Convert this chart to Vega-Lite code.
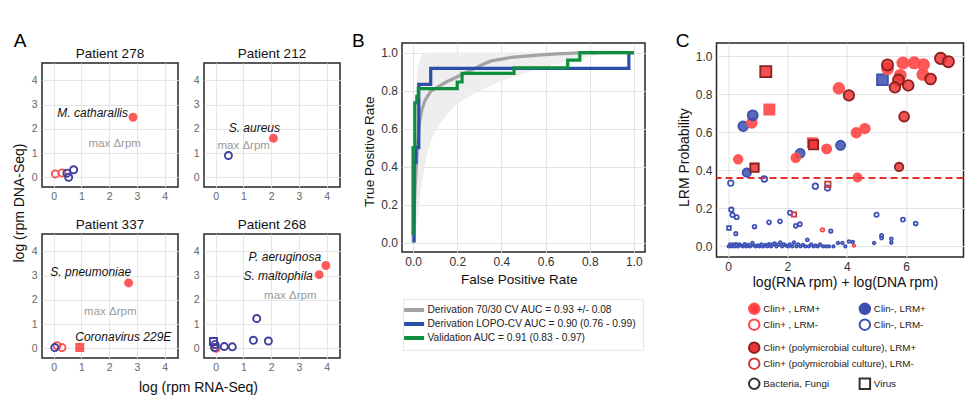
{
  "$schema": "https://vega.github.io/schema/vega-lite/v6.json",
  "background": "white",
  "padding": {"left": 11, "top": 30, "right": 5, "bottom": 2},
  "config": {
    "font": "Liberation Sans",
    "view": {"stroke": "#262626", "strokeWidth": 1.5},
    "axis": {"domain": false, "ticks": false, "grid": true, "gridColor": "#e3e3e3", "gridWidth": 1.1, "labelFont": "Liberation Sans", "titleFont": "Liberation Sans", "titleFontWeight": "normal", "labelColor": "#333", "titleColor": "#111", "labelFontSize": 12, "titleFontSize": 14, "labelPadding": 4.5},
    "title": {"font": "Liberation Sans", "fontWeight": "normal", "color": "#111"},
    "legend": {"labelFont": "Liberation Sans", "labelColor": "#222", "labelLimit": 320}
  },
  "datasets": {
    "Apts": [
      {"pt": "278", "x": 0.06, "y": 0.14, "c": "rn", "k": "b"},
      {"pt": "278", "x": 0.3, "y": 0.18, "c": "rn", "k": "b"},
      {"pt": "278", "x": 0.54, "y": 0.0, "c": "bn", "k": "b"},
      {"pt": "278", "x": 0.72, "y": 0.31, "c": "bn", "k": "b"},
      {"pt": "278", "x": 0.48, "y": 0.17, "c": "bn", "k": "b"},
      {"pt": "278", "x": 2.86, "y": 2.48, "c": "rp", "k": "b"},
      {"pt": "212", "x": 0.46, "y": 0.9, "c": "bn", "k": "b"},
      {"pt": "212", "x": 2.08, "y": 1.61, "c": "rp", "k": "b"},
      {"pt": "337", "x": 0.12, "y": 0.11, "c": "rn", "k": "b"},
      {"pt": "337", "x": 0.3, "y": 0.03, "c": "rn", "k": "b"},
      {"pt": "337", "x": 0.04, "y": 0.03, "c": "bn", "k": "b"},
      {"pt": "337", "x": 0.94, "y": 0.03, "c": "rp", "k": "v"},
      {"pt": "337", "x": 2.7, "y": 2.7, "c": "rp", "k": "b"},
      {"pt": "268", "x": 0.02, "y": 0.0, "c": "rn", "k": "b"},
      {"pt": "268", "x": -0.08, "y": 0.28, "c": "bn", "k": "v"},
      {"pt": "268", "x": -0.02, "y": 0.16, "c": "bn", "k": "b"},
      {"pt": "268", "x": -0.04, "y": 0.03, "c": "bn", "k": "b"},
      {"pt": "268", "x": 0.31, "y": 0.07, "c": "bn", "k": "b"},
      {"pt": "268", "x": 0.6, "y": 0.06, "c": "bn", "k": "b"},
      {"pt": "268", "x": 1.36, "y": 0.33, "c": "bn", "k": "b"},
      {"pt": "268", "x": 1.9, "y": 0.3, "c": "bn", "k": "b"},
      {"pt": "268", "x": 1.48, "y": 1.23, "c": "bn", "k": "b"},
      {"pt": "268", "x": 3.73, "y": 3.04, "c": "rp", "k": "b"},
      {"pt": "268", "x": 3.97, "y": 3.42, "c": "rp", "k": "b"}
    ],
    "Asp": [
      {"pt": "278", "x": 2.68, "y": 2.67, "t": "M. catharallis"},
      {"pt": "212", "x": 2.32, "y": 2.03, "t": "S. aureus"},
      {"pt": "337", "x": 2.79, "y": 3.15, "t": "S. pneumoniae"},
      {"pt": "337", "x": 4.24, "y": 0.45, "t": "Coronavirus 229E"},
      {"pt": "268", "x": 3.8, "y": 3.75, "t": "P. aeruginosa"},
      {"pt": "268", "x": 3.5, "y": 2.97, "t": "S. maltophila"}
    ],
    "Amx": [
      {"pt": "278", "x": 2.2, "y": 1.38, "t": "max Δrpm"},
      {"pt": "212", "x": 1.01, "y": 1.31, "t": "max Δrpm"},
      {"pt": "337", "x": 2.04, "y": 1.51, "t": "max Δrpm"},
      {"pt": "268", "x": 2.69, "y": 2.16, "t": "max Δrpm"}
    ],
    "Bband": [
      {"x": 0, "lo": 0, "hi": 0.25},
      {"x": 0.005, "lo": 0.02, "hi": 0.55},
      {"x": 0.01, "lo": 0.05, "hi": 0.75},
      {"x": 0.02, "lo": 0.12, "hi": 0.9},
      {"x": 0.03, "lo": 0.22, "hi": 0.96},
      {"x": 0.04, "lo": 0.32, "hi": 0.99},
      {"x": 0.06, "lo": 0.45, "hi": 1.0},
      {"x": 0.08, "lo": 0.53, "hi": 1.0},
      {"x": 0.1, "lo": 0.59, "hi": 1.0},
      {"x": 0.15, "lo": 0.67, "hi": 1.0},
      {"x": 0.2, "lo": 0.73, "hi": 1.0},
      {"x": 0.3, "lo": 0.8, "hi": 1.0},
      {"x": 0.4, "lo": 0.85, "hi": 1.0},
      {"x": 0.5, "lo": 0.89, "hi": 1.0},
      {"x": 0.6, "lo": 0.925, "hi": 1.0},
      {"x": 0.7, "lo": 0.955, "hi": 1.0},
      {"x": 0.8, "lo": 0.98, "hi": 1.0},
      {"x": 0.9, "lo": 0.995, "hi": 1.0},
      {"x": 1.0, "lo": 1.0, "hi": 1.0}
    ],
    "Broc": [
      {"s": "Derivation 70/30 CV AUC = 0.93 +/- 0.08", "x": 0, "y": 0},
      {"s": "Derivation 70/30 CV AUC = 0.93 +/- 0.08", "x": 0.005, "y": 0.15},
      {"s": "Derivation 70/30 CV AUC = 0.93 +/- 0.08", "x": 0.01, "y": 0.3},
      {"s": "Derivation 70/30 CV AUC = 0.93 +/- 0.08", "x": 0.02, "y": 0.5},
      {"s": "Derivation 70/30 CV AUC = 0.93 +/- 0.08", "x": 0.03, "y": 0.64},
      {"s": "Derivation 70/30 CV AUC = 0.93 +/- 0.08", "x": 0.04, "y": 0.7},
      {"s": "Derivation 70/30 CV AUC = 0.93 +/- 0.08", "x": 0.055, "y": 0.75},
      {"s": "Derivation 70/30 CV AUC = 0.93 +/- 0.08", "x": 0.08, "y": 0.795},
      {"s": "Derivation 70/30 CV AUC = 0.93 +/- 0.08", "x": 0.113, "y": 0.82},
      {"s": "Derivation 70/30 CV AUC = 0.93 +/- 0.08", "x": 0.15, "y": 0.845},
      {"s": "Derivation 70/30 CV AUC = 0.93 +/- 0.08", "x": 0.196, "y": 0.87},
      {"s": "Derivation 70/30 CV AUC = 0.93 +/- 0.08", "x": 0.24, "y": 0.895},
      {"s": "Derivation 70/30 CV AUC = 0.93 +/- 0.08", "x": 0.28, "y": 0.916},
      {"s": "Derivation 70/30 CV AUC = 0.93 +/- 0.08", "x": 0.32, "y": 0.94},
      {"s": "Derivation 70/30 CV AUC = 0.93 +/- 0.08", "x": 0.355, "y": 0.956},
      {"s": "Derivation 70/30 CV AUC = 0.93 +/- 0.08", "x": 0.445, "y": 0.975},
      {"s": "Derivation 70/30 CV AUC = 0.93 +/- 0.08", "x": 0.566, "y": 0.986},
      {"s": "Derivation 70/30 CV AUC = 0.93 +/- 0.08", "x": 0.65, "y": 0.993},
      {"s": "Derivation 70/30 CV AUC = 0.93 +/- 0.08", "x": 0.75, "y": 0.998},
      {"s": "Derivation 70/30 CV AUC = 0.93 +/- 0.08", "x": 0.85, "y": 1.0},
      {"s": "Derivation 70/30 CV AUC = 0.93 +/- 0.08", "x": 1.0, "y": 1.0},
      {"s": "Derivation LOPO-CV AUC = 0.90 (0.76 - 0.99)", "x": 0.005, "y": 0},
      {"s": "Derivation LOPO-CV AUC = 0.90 (0.76 - 0.99)", "x": 0.005, "y": 0.42},
      {"s": "Derivation LOPO-CV AUC = 0.90 (0.76 - 0.99)", "x": 0.013, "y": 0.42},
      {"s": "Derivation LOPO-CV AUC = 0.90 (0.76 - 0.99)", "x": 0.013, "y": 0.5},
      {"s": "Derivation LOPO-CV AUC = 0.90 (0.76 - 0.99)", "x": 0.026, "y": 0.5},
      {"s": "Derivation LOPO-CV AUC = 0.90 (0.76 - 0.99)", "x": 0.026, "y": 0.833},
      {"s": "Derivation LOPO-CV AUC = 0.90 (0.76 - 0.99)", "x": 0.08, "y": 0.833},
      {"s": "Derivation LOPO-CV AUC = 0.90 (0.76 - 0.99)", "x": 0.08, "y": 0.917},
      {"s": "Derivation LOPO-CV AUC = 0.90 (0.76 - 0.99)", "x": 0.977, "y": 0.917},
      {"s": "Derivation LOPO-CV AUC = 0.90 (0.76 - 0.99)", "x": 0.977, "y": 1.0},
      {"s": "Derivation LOPO-CV AUC = 0.90 (0.76 - 0.99)", "x": 1.0, "y": 1.0},
      {"s": "Validation AUC = 0.91 (0.83 - 0.97)", "x": 0, "y": 0.04},
      {"s": "Validation AUC = 0.91 (0.83 - 0.97)", "x": 0, "y": 0.5},
      {"s": "Validation AUC = 0.91 (0.83 - 0.97)", "x": 0.008, "y": 0.5},
      {"s": "Validation AUC = 0.91 (0.83 - 0.97)", "x": 0.008, "y": 0.735},
      {"s": "Validation AUC = 0.91 (0.83 - 0.97)", "x": 0.017, "y": 0.735},
      {"s": "Validation AUC = 0.91 (0.83 - 0.97)", "x": 0.017, "y": 0.77},
      {"s": "Validation AUC = 0.91 (0.83 - 0.97)", "x": 0.024, "y": 0.77},
      {"s": "Validation AUC = 0.91 (0.83 - 0.97)", "x": 0.024, "y": 0.81},
      {"s": "Validation AUC = 0.91 (0.83 - 0.97)", "x": 0.2, "y": 0.81},
      {"s": "Validation AUC = 0.91 (0.83 - 0.97)", "x": 0.2, "y": 0.845},
      {"s": "Validation AUC = 0.91 (0.83 - 0.97)", "x": 0.222, "y": 0.845},
      {"s": "Validation AUC = 0.91 (0.83 - 0.97)", "x": 0.222, "y": 0.89},
      {"s": "Validation AUC = 0.91 (0.83 - 0.97)", "x": 0.457, "y": 0.89},
      {"s": "Validation AUC = 0.91 (0.83 - 0.97)", "x": 0.457, "y": 0.92},
      {"s": "Validation AUC = 0.91 (0.83 - 0.97)", "x": 0.7, "y": 0.92},
      {"s": "Validation AUC = 0.91 (0.83 - 0.97)", "x": 0.7, "y": 0.96},
      {"s": "Validation AUC = 0.91 (0.83 - 0.97)", "x": 0.755, "y": 0.96},
      {"s": "Validation AUC = 0.91 (0.83 - 0.97)", "x": 0.755, "y": 1.0},
      {"s": "Validation AUC = 0.91 (0.83 - 0.97)", "x": 1.0, "y": 1.0}
    ],
    "Cm": [
      {"x": 0.02, "p": 0.0, "g": "Clin-, LRM-", "k": "Bacteria, Fungi"},
      {"x": 0.07, "p": 0.01, "g": "Clin-, LRM-", "k": "Bacteria, Fungi"},
      {"x": 0.12, "p": 0.0, "g": "Clin-, LRM-", "k": "Bacteria, Fungi"},
      {"x": 0.17, "p": 0.01, "g": "Clin-, LRM-", "k": "Bacteria, Fungi"},
      {"x": 0.22, "p": 0.0, "g": "Clin-, LRM-", "k": "Bacteria, Fungi"},
      {"x": 0.27, "p": 0.012, "g": "Clin-, LRM-", "k": "Bacteria, Fungi"},
      {"x": 0.33, "p": 0.0, "g": "Clin-, LRM-", "k": "Bacteria, Fungi"},
      {"x": 0.38, "p": 0.01, "g": "Clin-, LRM-", "k": "Bacteria, Fungi"},
      {"x": 0.44, "p": 0.005, "g": "Clin-, LRM-", "k": "Bacteria, Fungi"},
      {"x": 0.5, "p": 0.0, "g": "Clin-, LRM-", "k": "Bacteria, Fungi"},
      {"x": 0.56, "p": 0.012, "g": "Clin-, LRM-", "k": "Bacteria, Fungi"},
      {"x": 0.62, "p": 0.0, "g": "Clin-, LRM-", "k": "Bacteria, Fungi"},
      {"x": 0.68, "p": 0.008, "g": "Clin-, LRM-", "k": "Bacteria, Fungi"},
      {"x": 0.74, "p": 0.0, "g": "Clin-, LRM-", "k": "Bacteria, Fungi"},
      {"x": 0.82, "p": 0.018, "g": "Clin-, LRM-", "k": "Bacteria, Fungi"},
      {"x": 0.87, "p": 0.005, "g": "Clin-, LRM-", "k": "Bacteria, Fungi"},
      {"x": 0.93, "p": 0.0, "g": "Clin-, LRM-", "k": "Bacteria, Fungi"},
      {"x": 1.0, "p": 0.005, "g": "Clin-, LRM-", "k": "Bacteria, Fungi"},
      {"x": 1.06, "p": 0.0, "g": "Clin-, LRM-", "k": "Bacteria, Fungi"},
      {"x": 1.12, "p": 0.01, "g": "Clin-, LRM-", "k": "Bacteria, Fungi"},
      {"x": 1.18, "p": 0.0, "g": "Clin-, LRM-", "k": "Bacteria, Fungi"},
      {"x": 1.25, "p": 0.008, "g": "Clin-, LRM-", "k": "Bacteria, Fungi"},
      {"x": 1.32, "p": 0.0, "g": "Clin-, LRM-", "k": "Bacteria, Fungi"},
      {"x": 1.38, "p": 0.012, "g": "Clin-, LRM-", "k": "Bacteria, Fungi"},
      {"x": 1.45, "p": 0.0, "g": "Clin-, LRM-", "k": "Bacteria, Fungi"},
      {"x": 1.5, "p": 0.01, "g": "Clin-, LRM-", "k": "Bacteria, Fungi"},
      {"x": 1.57, "p": 0.015, "g": "Clin-, LRM-", "k": "Bacteria, Fungi"},
      {"x": 1.63, "p": 0.0, "g": "Clin-, LRM-", "k": "Bacteria, Fungi"},
      {"x": 1.7, "p": 0.01, "g": "Clin-, LRM-", "k": "Bacteria, Fungi"},
      {"x": 1.76, "p": 0.02, "g": "Clin-, LRM-", "k": "Bacteria, Fungi"},
      {"x": 1.82, "p": 0.0, "g": "Clin-, LRM-", "k": "Bacteria, Fungi"},
      {"x": 1.88, "p": 0.01, "g": "Clin-, LRM-", "k": "Bacteria, Fungi"},
      {"x": 1.95, "p": 0.005, "g": "Clin-, LRM-", "k": "Bacteria, Fungi"},
      {"x": 2.02, "p": 0.0, "g": "Clin-, LRM-", "k": "Bacteria, Fungi"},
      {"x": 2.08, "p": 0.01, "g": "Clin-, LRM-", "k": "Bacteria, Fungi"},
      {"x": 2.16, "p": 0.0, "g": "Clin-, LRM-", "k": "Bacteria, Fungi"},
      {"x": 2.22, "p": 0.02, "g": "Clin-, LRM-", "k": "Bacteria, Fungi"},
      {"x": 2.3, "p": 0.0, "g": "Clin-, LRM-", "k": "Bacteria, Fungi"},
      {"x": 2.36, "p": 0.01, "g": "Clin-, LRM-", "k": "Bacteria, Fungi"},
      {"x": 2.44, "p": 0.0, "g": "Clin-, LRM-", "k": "Bacteria, Fungi"},
      {"x": 2.52, "p": 0.008, "g": "Clin-, LRM-", "k": "Bacteria, Fungi"},
      {"x": 2.6, "p": 0.0, "g": "Clin-, LRM-", "k": "Bacteria, Fungi"},
      {"x": 2.67, "p": 0.034, "g": "Clin-, LRM-", "k": "Bacteria, Fungi"},
      {"x": 2.72, "p": 0.0, "g": "Clin-, LRM-", "k": "Bacteria, Fungi"},
      {"x": 2.8, "p": 0.01, "g": "Clin-, LRM-", "k": "Bacteria, Fungi"},
      {"x": 2.88, "p": 0.0, "g": "Clin-, LRM-", "k": "Bacteria, Fungi"},
      {"x": 2.95, "p": 0.005, "g": "Clin-, LRM-", "k": "Bacteria, Fungi"},
      {"x": 3.02, "p": 0.0, "g": "Clin-, LRM-", "k": "Bacteria, Fungi"},
      {"x": 3.1, "p": 0.01, "g": "Clin-, LRM-", "k": "Bacteria, Fungi"},
      {"x": 3.2, "p": 0.0, "g": "Clin-, LRM-", "k": "Bacteria, Fungi"},
      {"x": 3.3, "p": 0.0, "g": "Clin-, LRM-", "k": "Bacteria, Fungi"},
      {"x": 3.4, "p": 0.0, "g": "Clin-, LRM-", "k": "Bacteria, Fungi"},
      {"x": 3.55, "p": 0.0, "g": "Clin-, LRM-", "k": "Bacteria, Fungi"},
      {"x": 3.7, "p": 0.018, "g": "Clin-, LRM-", "k": "Bacteria, Fungi"},
      {"x": 3.85, "p": 0.018, "g": "Clin-, LRM-", "k": "Bacteria, Fungi"},
      {"x": 3.95, "p": 0.0, "g": "Clin-, LRM-", "k": "Bacteria, Fungi"},
      {"x": 4.07, "p": 0.026, "g": "Clin-, LRM-", "k": "Bacteria, Fungi"},
      {"x": 4.2, "p": 0.023, "g": "Clin-, LRM-", "k": "Bacteria, Fungi"},
      {"x": 4.92, "p": 0.018, "g": "Clin-, LRM-", "k": "Bacteria, Fungi"},
      {"x": 5.17, "p": 0.058, "g": "Clin-, LRM-", "k": "Bacteria, Fungi"},
      {"x": 5.17, "p": 0.044, "g": "Clin-, LRM-", "k": "Bacteria, Fungi"},
      {"x": 5.5, "p": 0.04, "g": "Clin-, LRM-", "k": "Bacteria, Fungi"},
      {"x": 5.5, "p": 0.02, "g": "Clin-, LRM-", "k": "Bacteria, Fungi"},
      {"x": 3.46, "p": 0.081, "g": "Clin-, LRM-", "k": "Bacteria, Fungi"},
      {"x": 0.09, "p": 0.333, "g": "Clin-, LRM-", "k": "Bacteria, Fungi"},
      {"x": 1.22, "p": 0.355, "g": "Clin-, LRM-", "k": "Bacteria, Fungi"},
      {"x": 2.94, "p": 0.317, "g": "Clin-, LRM-", "k": "Bacteria, Fungi"},
      {"x": 3.35, "p": 0.307, "g": "Clin-, LRM-", "k": "Bacteria, Fungi"},
      {"x": 0.11, "p": 0.193, "g": "Clin-, LRM-", "k": "Bacteria, Fungi"},
      {"x": 0.15, "p": 0.165, "g": "Clin-, LRM-", "k": "Bacteria, Fungi"},
      {"x": 0.29, "p": 0.154, "g": "Clin-, LRM-", "k": "Bacteria, Fungi"},
      {"x": 0.26, "p": 0.067, "g": "Clin-, LRM-", "k": "Bacteria, Fungi"},
      {"x": 0.89, "p": 0.104, "g": "Clin-, LRM-", "k": "Bacteria, Fungi"},
      {"x": 1.38, "p": 0.127, "g": "Clin-, LRM-", "k": "Bacteria, Fungi"},
      {"x": 1.75, "p": 0.132, "g": "Clin-, LRM-", "k": "Bacteria, Fungi"},
      {"x": 2.09, "p": 0.177, "g": "Clin-, LRM-", "k": "Bacteria, Fungi"},
      {"x": 2.28, "p": 0.108, "g": "Clin-, LRM-", "k": "Bacteria, Fungi"},
      {"x": 2.42, "p": 0.117, "g": "Clin-, LRM-", "k": "Bacteria, Fungi"},
      {"x": 5.0, "p": 0.167, "g": "Clin-, LRM-", "k": "Bacteria, Fungi"},
      {"x": 5.89, "p": 0.141, "g": "Clin-, LRM-", "k": "Bacteria, Fungi"},
      {"x": 6.32, "p": 0.12, "g": "Clin-, LRM-", "k": "Bacteria, Fungi"},
      {"x": 0.03, "p": 0.097, "g": "Clin-, LRM-", "k": "Virus"},
      {"x": 3.18, "p": 0.087, "g": "Clin+ , LRM-", "k": "Bacteria, Fungi"},
      {"x": 4.24, "p": 0.004, "g": "Clin+ , LRM-", "k": "Bacteria, Fungi"},
      {"x": 0.51, "p": 0.632, "g": "Clin-, LRM+", "k": "Bacteria, Fungi"},
      {"x": 0.63, "p": 0.388, "g": "Clin-, LRM+", "k": "Bacteria, Fungi"},
      {"x": 2.43, "p": 0.49, "g": "Clin-, LRM+", "k": "Bacteria, Fungi"},
      {"x": 3.79, "p": 0.532, "g": "Clin-, LRM+", "k": "Bacteria, Fungi"},
      {"x": 5.2, "p": 0.877, "g": "Clin-, LRM+", "k": "Virus"},
      {"x": 0.34, "p": 0.458, "g": "Clin+ , LRM+", "k": "Bacteria, Fungi"},
      {"x": 0.8, "p": 0.65, "g": "Clin+ , LRM+", "k": "Bacteria, Fungi"},
      {"x": 0.83, "p": 0.69, "g": "Clin-, LRM+", "k": "Bacteria, Fungi"},
      {"x": 2.28, "p": 0.466, "g": "Clin+ , LRM+", "k": "Bacteria, Fungi"},
      {"x": 3.32, "p": 0.513, "g": "Clin+ , LRM+", "k": "Bacteria, Fungi"},
      {"x": 3.73, "p": 0.832, "g": "Clin+ , LRM+", "k": "Bacteria, Fungi"},
      {"x": 4.32, "p": 0.598, "g": "Clin+ , LRM+", "k": "Bacteria, Fungi"},
      {"x": 4.61, "p": 0.62, "g": "Clin+ , LRM+", "k": "Bacteria, Fungi"},
      {"x": 4.36, "p": 0.363, "g": "Clin+ , LRM+", "k": "Bacteria, Fungi"},
      {"x": 5.37, "p": 0.935, "g": "Clin+ , LRM+", "k": "Bacteria, Fungi"},
      {"x": 5.89, "p": 0.965, "g": "Clin+ , LRM+", "k": "Bacteria, Fungi"},
      {"x": 6.27, "p": 0.966, "g": "Clin+ , LRM+", "k": "Bacteria, Fungi"},
      {"x": 6.58, "p": 0.956, "g": "Clin+ , LRM+", "k": "Bacteria, Fungi"},
      {"x": 5.8, "p": 0.9, "g": "Clin+ , LRM+", "k": "Bacteria, Fungi"},
      {"x": 6.56, "p": 0.905, "g": "Clin+ , LRM+", "k": "Bacteria, Fungi"},
      {"x": 1.39, "p": 0.72, "g": "Clin+ , LRM+", "k": "Virus"},
      {"x": 2.84, "p": 0.545, "g": "Clin+ , LRM+", "k": "Virus"}
    ],
    "Cp": [
      {"x": 3.36, "p": 0.326, "pg": "Clin+ (polymicrobial culture), LRM-", "k": "Virus"},
      {"x": 2.22, "p": 0.168, "pg": "Clin+ (polymicrobial culture), LRM-", "k": "Virus"},
      {"x": 1.27, "p": 0.92, "pg": "Clin+ (polymicrobial culture), LRM+", "k": "Virus"},
      {"x": 0.89, "p": 0.414, "pg": "Clin+ (polymicrobial culture), LRM+", "k": "Virus"},
      {"x": 2.88, "p": 0.535, "pg": "Clin+ (polymicrobial culture), LRM+", "k": "Virus"},
      {"x": 4.07, "p": 0.795, "pg": "Clin+ (polymicrobial culture), LRM+", "k": "Bacteria, Fungi"},
      {"x": 5.37, "p": 0.955, "pg": "Clin+ (polymicrobial culture), LRM+", "k": "Bacteria, Fungi"},
      {"x": 6.82, "p": 0.881, "pg": "Clin+ (polymicrobial culture), LRM+", "k": "Bacteria, Fungi"},
      {"x": 5.74, "p": 0.876, "pg": "Clin+ (polymicrobial culture), LRM+", "k": "Bacteria, Fungi"},
      {"x": 5.62, "p": 0.837, "pg": "Clin+ (polymicrobial culture), LRM+", "k": "Bacteria, Fungi"},
      {"x": 6.07, "p": 0.847, "pg": "Clin+ (polymicrobial culture), LRM+", "k": "Bacteria, Fungi"},
      {"x": 7.16, "p": 0.989, "pg": "Clin+ (polymicrobial culture), LRM+", "k": "Bacteria, Fungi"},
      {"x": 7.42, "p": 0.972, "pg": "Clin+ (polymicrobial culture), LRM+", "k": "Bacteria, Fungi"},
      {"x": 5.93, "p": 0.683, "pg": "Clin+ (polymicrobial culture), LRM+", "k": "Bacteria, Fungi"},
      {"x": 5.76, "p": 0.418, "pg": "Clin+ (polymicrobial culture), LRM+", "k": "Bacteria, Fungi"}
    ]
  },
  "columns": 2,
  "spacing": 10,
  "center": true,
  "resolve": {"scale": {"color": "independent", "fill": "independent", "stroke": "independent", "shape": "independent", "size": "independent"}, "legend": {"color": "independent", "fill": "independent", "stroke": "independent", "shape": "independent", "size": "independent"}},
  "concat": [
    {
      "title": {"text": "A", "anchor": "start", "frame": "group", "fontSize": 19, "offset": -19.3, "dx": -28.3, "baseline": "alphabetic", "color": "#000"},
      "columns": 2,
      "spacing": {"row": 47, "column": 26},
      "bounds": "flush",
      "concat": [
        {
          "width": 136, "height": 124,
          "title": {"text": "Patient 278", "fontSize": 13.5, "offset": -8.65, "baseline": "alphabetic"},
          "encoding": {
            "x": {"field": "x", "type": "quantitative", "scale": {"domain": [-0.42, 4.48], "nice": false, "zero": false}, "axis": {"values": [0, 1, 2, 3, 4], "title": null, "labelFontSize": 10.5, "labelColor": "#666", "labelPadding": 5, "gridColor": "#e6e6e6"}},
            "y": {"field": "y", "type": "quantitative", "scale": {"domain": [-0.4, 4.72], "nice": false, "zero": false}, "axis": {"values": [0, 1, 2, 3, 4], "title": "log (rpm DNA-Seq)", "titleX": -19, "titleY": 139.5, "titleAngle": -90, "titleAlign": "center", "titleBaseline": "alphabetic", "titleFontSize": 14, "labelFontSize": 10.5, "labelColor": "#666", "labelPadding": 5, "gridColor": "#e6e6e6"}}
          },
          "layer": [
            {"data": {"name": "Apts"}, "transform": [{"filter": "datum.pt == '278'"}], "mark": {"type": "point", "size": 50, "strokeWidth": 1.9, "fillOpacity": 0.88, "opacity": 1},
             "encoding": {
               "fill": {"field": "c", "type": "nominal", "scale": {"domain": ["rp", "rn", "bn"], "range": ["#ff4343", "transparent", "transparent"]}, "legend": null},
               "stroke": {"field": "c", "type": "nominal", "scale": {"domain": ["rp", "rn", "bn"], "range": ["#ff5a5a", "#ff5050", "#3f3fa0"]}, "legend": null},
               "shape": {"field": "k", "type": "nominal", "scale": {"domain": ["b", "v"], "range": ["circle", "square"]}, "legend": null}
             }},
            {"data": {"name": "Asp"}, "transform": [{"filter": "datum.pt == '278'"}], "mark": {"type": "text", "align": "right", "baseline": "middle", "fontStyle": "italic", "fontSize": 12, "color": "#111"}, "encoding": {"text": {"field": "t"}}},
            {"data": {"name": "Amx"}, "transform": [{"filter": "datum.pt == '278'"}], "mark": {"type": "text", "align": "center", "baseline": "middle", "fontSize": 11.5, "color": "#9a9a9a"}, "encoding": {"text": {"field": "t"}}}
          ]
        },
        {
          "width": 136, "height": 124,
          "title": {"text": "Patient 212", "fontSize": 13.5, "offset": -8.65, "baseline": "alphabetic"},
          "encoding": {
            "x": {"field": "x", "type": "quantitative", "scale": {"domain": [-0.42, 4.48], "nice": false, "zero": false}, "axis": {"values": [0, 1, 2, 3, 4], "title": null, "labelFontSize": 10.5, "labelColor": "#666", "labelPadding": 5, "gridColor": "#e6e6e6"}},
            "y": {"field": "y", "type": "quantitative", "scale": {"domain": [-0.4, 4.72], "nice": false, "zero": false}, "axis": {"values": [0, 1, 2, 3, 4], "title": null, "labelFontSize": 10.5, "labelColor": "#666", "labelPadding": 5, "gridColor": "#e6e6e6"}}
          },
          "layer": [
            {"data": {"name": "Apts"}, "transform": [{"filter": "datum.pt == '212'"}], "mark": {"type": "point", "size": 50, "strokeWidth": 1.9, "fillOpacity": 0.88, "opacity": 1},
             "encoding": {
               "fill": {"field": "c", "type": "nominal", "scale": {"domain": ["rp", "rn", "bn"], "range": ["#ff4343", "transparent", "transparent"]}, "legend": null},
               "stroke": {"field": "c", "type": "nominal", "scale": {"domain": ["rp", "rn", "bn"], "range": ["#ff5a5a", "#ff5050", "#3f3fa0"]}, "legend": null},
               "shape": {"field": "k", "type": "nominal", "scale": {"domain": ["b", "v"], "range": ["circle", "square"]}, "legend": null}
             }},
            {"data": {"name": "Asp"}, "transform": [{"filter": "datum.pt == '212'"}], "mark": {"type": "text", "align": "right", "baseline": "middle", "fontStyle": "italic", "fontSize": 12, "color": "#111"}, "encoding": {"text": {"field": "t"}}},
            {"data": {"name": "Amx"}, "transform": [{"filter": "datum.pt == '212'"}], "mark": {"type": "text", "align": "center", "baseline": "middle", "fontSize": 11.5, "color": "#9a9a9a"}, "encoding": {"text": {"field": "t"}}}
          ]
        },
        {
          "width": 136, "height": 124,
          "title": {"text": "Patient 337", "fontSize": 13.5, "offset": -8.65, "baseline": "alphabetic"},
          "encoding": {
            "x": {"field": "x", "type": "quantitative", "scale": {"domain": [-0.42, 4.48], "nice": false, "zero": false}, "axis": {"values": [0, 1, 2, 3, 4], "title": "log (rpm RNA-Seq)", "titleX": 156, "titleY": 33.3, "titleAlign": "center", "titleBaseline": "alphabetic", "titleFontSize": 14, "labelFontSize": 10.5, "labelColor": "#666", "labelPadding": 5, "gridColor": "#e6e6e6"}},
            "y": {"field": "y", "type": "quantitative", "scale": {"domain": [-0.4, 4.72], "nice": false, "zero": false}, "axis": {"values": [0, 1, 2, 3, 4], "title": null, "labelFontSize": 10.5, "labelColor": "#666", "labelPadding": 5, "gridColor": "#e6e6e6"}}
          },
          "layer": [
            {"data": {"name": "Apts"}, "transform": [{"filter": "datum.pt == '337'"}], "mark": {"type": "point", "size": 50, "strokeWidth": 1.9, "fillOpacity": 0.88, "opacity": 1},
             "encoding": {
               "fill": {"field": "c", "type": "nominal", "scale": {"domain": ["rp", "rn", "bn"], "range": ["#ff4343", "transparent", "transparent"]}, "legend": null},
               "stroke": {"field": "c", "type": "nominal", "scale": {"domain": ["rp", "rn", "bn"], "range": ["#ff5a5a", "#ff5050", "#3f3fa0"]}, "legend": null},
               "shape": {"field": "k", "type": "nominal", "scale": {"domain": ["b", "v"], "range": ["circle", "square"]}, "legend": null}
             }},
            {"data": {"name": "Asp"}, "transform": [{"filter": "datum.pt == '337'"}], "mark": {"type": "text", "align": "right", "baseline": "middle", "fontStyle": "italic", "fontSize": 12, "color": "#111"}, "encoding": {"text": {"field": "t"}}},
            {"data": {"name": "Amx"}, "transform": [{"filter": "datum.pt == '337'"}], "mark": {"type": "text", "align": "center", "baseline": "middle", "fontSize": 11.5, "color": "#9a9a9a"}, "encoding": {"text": {"field": "t"}}}
          ]
        },
        {
          "width": 136, "height": 124,
          "title": {"text": "Patient 268", "fontSize": 13.5, "offset": -8.65, "baseline": "alphabetic"},
          "encoding": {
            "x": {"field": "x", "type": "quantitative", "scale": {"domain": [-0.42, 4.48], "nice": false, "zero": false}, "axis": {"values": [0, 1, 2, 3, 4], "title": null, "labelFontSize": 10.5, "labelColor": "#666", "labelPadding": 5, "gridColor": "#e6e6e6"}},
            "y": {"field": "y", "type": "quantitative", "scale": {"domain": [-0.4, 4.72], "nice": false, "zero": false}, "axis": {"values": [0, 1, 2, 3, 4], "title": null, "labelFontSize": 10.5, "labelColor": "#666", "labelPadding": 5, "gridColor": "#e6e6e6"}}
          },
          "layer": [
            {"data": {"name": "Apts"}, "transform": [{"filter": "datum.pt == '268'"}], "mark": {"type": "point", "size": 50, "strokeWidth": 1.9, "fillOpacity": 0.88, "opacity": 1},
             "encoding": {
               "fill": {"field": "c", "type": "nominal", "scale": {"domain": ["rp", "rn", "bn"], "range": ["#ff4343", "transparent", "transparent"]}, "legend": null},
               "stroke": {"field": "c", "type": "nominal", "scale": {"domain": ["rp", "rn", "bn"], "range": ["#ff5a5a", "#ff5050", "#3f3fa0"]}, "legend": null},
               "shape": {"field": "k", "type": "nominal", "scale": {"domain": ["b", "v"], "range": ["circle", "square"]}, "legend": null}
             }},
            {"data": {"name": "Asp"}, "transform": [{"filter": "datum.pt == '268'"}], "mark": {"type": "text", "align": "right", "baseline": "middle", "fontStyle": "italic", "fontSize": 12, "color": "#111"}, "encoding": {"text": {"field": "t"}}},
            {"data": {"name": "Amx"}, "transform": [{"filter": "datum.pt == '268'"}], "mark": {"type": "text", "align": "center", "baseline": "middle", "fontSize": 11.5, "color": "#9a9a9a"}, "encoding": {"text": {"field": "t"}}}
          ]
        }
      ]
    },
    {
      "columns": 2,
      "spacing": 28.5,
      "resolve": {"scale": {"color": "independent", "fill": "independent", "stroke": "independent", "shape": "independent", "size": "independent"}, "legend": {"color": "independent", "fill": "independent", "stroke": "independent", "shape": "independent", "size": "independent"}},
      "concat": [
        {
          "width": 243, "height": 209,
          "title": {"text": "B", "anchor": "start", "frame": "group", "fontSize": 19, "offset": -22.75, "dx": -50, "baseline": "alphabetic", "color": "#000"},
          "layer": [
            {"data": {"name": "Bband"}, "mark": {"type": "area", "color": "#eeeeee", "opacity": 1},
             "encoding": {
               "x": {"field": "x", "type": "quantitative", "scale": {"domain": [-0.05, 1.05], "nice": false, "zero": false}},
               "y": {"field": "lo", "type": "quantitative", "scale": {"domain": [-0.05, 1.05], "nice": false, "zero": false}},
               "y2": {"field": "hi"}
             }},
            {"data": {"name": "Broc"}, "mark": {"type": "line", "strokeWidth": 3.2, "interpolate": "linear"},
             "encoding": {
               "x": {"field": "x", "type": "quantitative", "scale": {"domain": [-0.05, 1.05], "nice": false, "zero": false}, "axis": {"values": [0, 0.2, 0.4, 0.6, 0.8, 1.0], "format": ".1f", "title": "False Positive Rate", "titleX": 116.75, "titleY": 31.3, "titleAlign": "center", "titleBaseline": "alphabetic", "titleFontSize": 13.5}},
               "y": {"field": "y", "type": "quantitative", "scale": {"domain": [-0.05, 1.05], "nice": false, "zero": false}, "axis": {"values": [0, 0.2, 0.4, 0.6, 0.8, 1.0], "format": ".1f", "title": "True Positive Rate", "titleX": -28.25, "titleY": 108.3, "titleAngle": -90, "titleAlign": "center", "titleBaseline": "alphabetic", "titleFontSize": 13.5}},
               "color": {"field": "s", "type": "nominal", "scale": {"domain": ["Derivation 70/30 CV AUC = 0.93 +/- 0.08", "Derivation LOPO-CV AUC = 0.90 (0.76 - 0.99)", "Validation AUC = 0.91 (0.83 - 0.97)"], "range": ["#a3a3a3", "#2b4ea6", "#0f8f3e"]},
                 "legend": {"title": null, "orient": "none", "legendX": 1, "legendY": 255.85, "padding": 6, "strokeColor": "#e6e6e6", "fillColor": "#ffffff", "symbolType": "M-3.6,-0.4H3.6V0.4H-3.6Z", "symbolSize": 25, "symbolStrokeWidth": 2, "symbolOffset": 0, "labelOffset": 8.25, "labelFontSize": 10.2, "rowPadding": 3}}
             }}
          ]
        },
        {
          "width": 247, "height": 214,
          "title": {"text": "C", "anchor": "start", "frame": "group", "fontSize": 19, "offset": -22.45, "dx": -40.7, "baseline": "alphabetic", "color": "#000"},
          "resolve": {"scale": {"fill": "independent", "stroke": "independent"}},
          "layer": [
            {"data": {"values": [{}]}, "mark": {"type": "rule", "color": "#e5302e", "strokeWidth": 2, "strokeDash": [7, 4]},
             "encoding": {"y": {"datum": 0.36, "type": "quantitative", "scale": {"domain": [-0.056, 1.07], "nice": false, "zero": false}}}},
            {"data": {"name": "Cm"}, "mark": {"type": "point", "strokeWidth": 1.8, "fillOpacity": 0.85, "opacity": 1},
             "encoding": {
               "x": {"field": "x", "type": "quantitative", "scale": {"domain": [-0.39, 7.93], "nice": false, "zero": false}, "axis": {"values": [0, 1, 2, 3, 4, 5, 6, 7], "title": "log(RNA rpm) + log(DNA rpm)", "titleX": 128.5, "titleY": 29.5, "titleAlign": "center", "titleBaseline": "alphabetic", "titleFontSize": 14}},
               "y": {"field": "p", "type": "quantitative", "scale": {"domain": [-0.056, 1.07], "nice": false, "zero": false}, "axis": {"values": [0, 0.1, 0.2, 0.3, 0.4, 0.5, 0.6, 0.7, 0.8, 0.9, 1.0], "format": ".1f", "title": "LRM Probability", "titleX": -27.9, "titleY": 114, "titleAngle": -90, "titleAlign": "center", "titleBaseline": "alphabetic", "titleFontSize": 14}},
               "fill": {"field": "g", "type": "nominal", "scale": {"domain": ["Clin+ , LRM+", "Clin+ , LRM-", "Clin-, LRM+", "Clin-, LRM-"], "range": ["#ff3b3b", "transparent", "#3c50b2", "transparent"]},
                 "legend": {"title": null, "orient": "none", "legendX": 31.25, "legendY": 259.15, "columns": 2, "columnPadding": 34.6, "rowPadding": -4.6, "padding": 0, "symbolType": "circle", "symbolSize": 110, "symbolStrokeWidth": 2, "labelOffset": 2.5, "labelFontSize": 9.8}},
               "stroke": {"field": "g", "type": "nominal", "scale": {"domain": ["Clin+ , LRM+", "Clin+ , LRM-", "Clin-, LRM+", "Clin-, LRM-"], "range": ["#ff5555", "#ff4545", "#3c50b2", "#3d52b5"]},
                 "legend": {"title": null, "orient": "none", "legendX": 31.25, "legendY": 259.15, "columns": 2, "columnPadding": 34.6, "rowPadding": -4.6, "padding": 0, "symbolType": "circle", "symbolSize": 110, "symbolStrokeWidth": 2, "labelOffset": 2.5, "labelFontSize": 9.8}},
               "shape": {"field": "k", "type": "nominal", "scale": {"domain": ["Bacteria, Fungi", "Virus"], "range": ["circle", "square"]},
                 "legend": {"title": null, "orient": "none", "legendX": 10.25, "legendY": 313.15, "columns": 2, "columnPadding": 25.6, "padding": 21, "symbolSize": 110, "symbolStrokeWidth": 2, "symbolFillColor": "transparent", "symbolStrokeColor": "#333333", "labelOffset": 2.5, "labelFontSize": 9.8}},
               "size": {"field": "p", "type": "quantitative", "scale": {"domain": [0, 0.355, 0.36, 1], "range": [6, 32, 66, 130]}, "legend": null}
             }},
            {"data": {"name": "Cp"}, "mark": {"type": "point", "strokeWidth": 1.8, "fillOpacity": 0.85, "opacity": 1},
             "encoding": {
               "x": {"field": "x", "type": "quantitative", "scale": {"domain": [-0.39, 7.93], "nice": false, "zero": false}},
               "y": {"field": "p", "type": "quantitative", "scale": {"domain": [-0.056, 1.07], "nice": false, "zero": false}},
               "fill": {"field": "pg", "type": "nominal", "scale": {"domain": ["Clin+ (polymicrobial culture), LRM+", "Clin+ (polymicrobial culture), LRM-"], "range": ["#ee3434", "transparent"]},
                 "legend": {"title": null, "orient": "none", "legendX": 31.25, "legendY": 298.15, "rowPadding": -5, "padding": 0, "symbolType": "circle", "symbolSize": 110, "symbolStrokeWidth": 2, "labelOffset": 2.5, "labelFontSize": 9.8}},
               "stroke": {"field": "pg", "type": "nominal", "scale": {"domain": ["Clin+ (polymicrobial culture), LRM+", "Clin+ (polymicrobial culture), LRM-"], "range": ["#8a1f1f", "#cf3a3a"]},
                 "legend": {"title": null, "orient": "none", "legendX": 31.25, "legendY": 298.15, "rowPadding": -5, "padding": 0, "symbolType": "circle", "symbolSize": 110, "symbolStrokeWidth": 2, "labelOffset": 2.5, "labelFontSize": 9.8}},
               "shape": {"field": "k", "type": "nominal", "scale": {"domain": ["Bacteria, Fungi", "Virus"], "range": ["circle", "square"]},
                 "legend": {"title": null, "orient": "none", "legendX": 10.25, "legendY": 313.15, "columns": 2, "columnPadding": 25.6, "padding": 21, "symbolSize": 110, "symbolStrokeWidth": 2, "symbolFillColor": "transparent", "symbolStrokeColor": "#333333", "labelOffset": 2.5, "labelFontSize": 9.8}},
               "size": {"field": "p", "type": "quantitative", "scale": {"domain": [0, 0.355, 0.36, 1], "range": [6, 32, 66, 130]}, "legend": null}
             }}
          ]
        }
      ]
    }
  ]
}
